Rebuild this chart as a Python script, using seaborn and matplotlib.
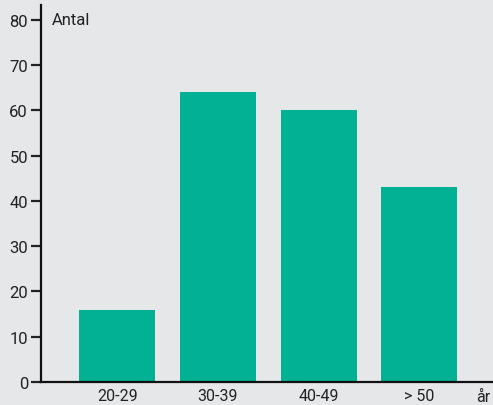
import matplotlib
matplotlib.use("Agg")
import matplotlib.pyplot as plt
import seaborn as sns
import pandas as pd

groups = ["20-29", "30-39", "40-49", "> 50"]
antal = [16, 64, 60, 43]

bg = "#e6e7e9"
teal = "#02b093"

sns.set_style("ticks", {"axes.facecolor": bg, "figure.facecolor": bg})
plt.rcParams["font.family"] = ["Roboto", "DejaVu Sans"]

df = pd.DataFrame({"group": groups, "antal": antal})

fig = plt.figure(figsize=(4.93, 4.06), dpi=100)
ax = fig.add_axes([40.5 / 493, 23 / 406, 1 - 40.5 / 493, (383 - 6) / 406])
sns.barplot(data=df, x="group", y="antal", color=teal, width=0.755,
            saturation=1, linewidth=0, edgecolor="none", ax=ax)

ax.set_ylim(0, 83.3)
ax.set_xlim(-0.76, 3.73)
ax.set_yticks(range(0, 81, 10))
ax.set_xlabel("")
ax.set_ylabel("")

for s in ["top", "right"]:
    ax.spines[s].set_visible(False)
for s in ["left", "bottom"]:
    ax.spines[s].set_linewidth(1.6)
    ax.spines[s].set_color("#111111")

ax.tick_params(axis="y", length=7, width=1.6, labelsize=12, pad=2,
               colors="#222222")
ax.tick_params(axis="x", length=0, labelsize=11.5, pad=4, colors="#222222")

ax.text(0.025, 80, "Antal", fontsize=12, color="#222222", va="center",
        transform=ax.get_yaxis_transform())
ax.text(3.63, -3.2, "år", fontsize=11.5, color="#222222", va="center",
        ha="center", clip_on=False)

fig.savefig("out.png", dpi=100, facecolor=bg)
